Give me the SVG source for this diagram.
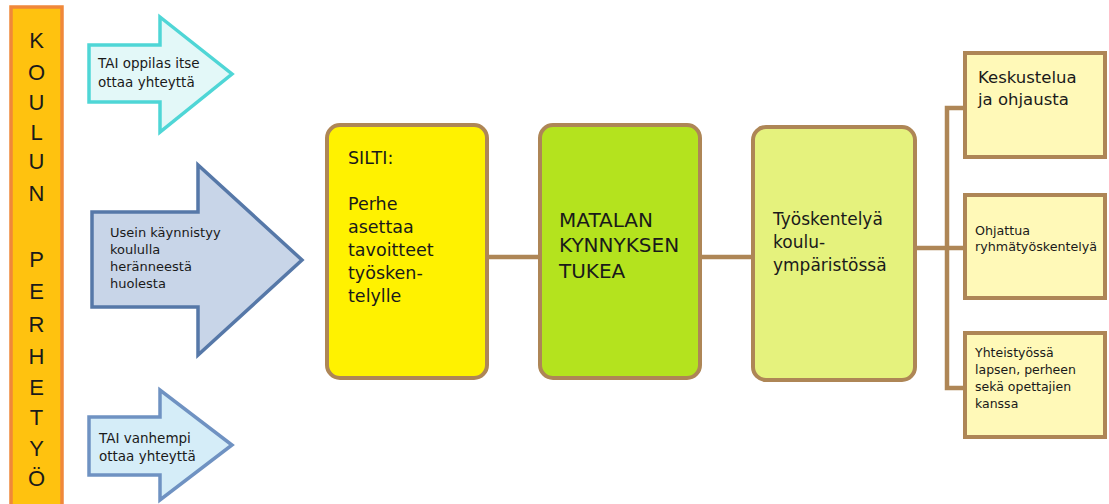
<svg xmlns="http://www.w3.org/2000/svg" width="1109" height="504" viewBox="0 0 1109 504">
<style>
.t{font-family:"DejaVu Sans","Liberation Sans",sans-serif;fill:#1a1a1a}
.bar{font-family:"Liberation Sans",Arial,sans-serif;font-size:22px;fill:#1a1a1a;text-anchor:middle}
.box{stroke:#AE8656;stroke-width:4}
.conn{stroke:#AE8656;stroke-width:4.5;fill:none}
</style>
<rect width="1109" height="504" fill="#ffffff"/>
<g id="bar">
<rect x="11" y="7" width="51" height="510" fill="#FFC20F" stroke="#F0883A" stroke-width="3.5"/>
<text class="bar" x="36.5" y="48">K</text>
<text class="bar" x="36.5" y="80">O</text>
<text class="bar" x="36.5" y="110">U</text>
<text class="bar" x="36.5" y="140">L</text>
<text class="bar" x="36.5" y="169">U</text>
<text class="bar" x="36.5" y="201">N</text>
<text class="bar" x="36.5" y="267">P</text>
<text class="bar" x="36.5" y="299">E</text>
<text class="bar" x="36.5" y="332">R</text>
<text class="bar" x="36.5" y="364">H</text>
<text class="bar" x="36.5" y="395">E</text>
<text class="bar" x="36.5" y="425">T</text>
<text class="bar" x="36.5" y="456">Y</text>
<text class="bar" x="36.5" y="486">Ö</text>
</g>
<g id="arrow1">
<polygon points="89,45 160,45 160,17 232,74 160,132 160,102 89,102" fill="#E3F8F8" stroke="#4FD6D6" stroke-width="3.5" stroke-linejoin="miter"/>
<text class="t" font-size="13.5" x="98" y="68">TAI oppilas itse</text>
<text class="t" font-size="13.5" x="98" y="87">ottaa yhteyttä</text>
</g>
<g id="arrow2">
<polygon points="92,212 198,212 198,165 302,260 198,355 198,307 92,307" fill="#C8D5E8" stroke="#5678A8" stroke-width="3.5"/>
<text class="t" font-size="13" x="110" y="237">Usein käynnistyy</text>
<text class="t" font-size="13" x="110" y="254">koululla</text>
<text class="t" font-size="13" x="110" y="271">heränneestä</text>
<text class="t" font-size="13" x="110" y="288">huolesta</text>
</g>
<g id="arrow3">
<polygon points="89,417 160,417 160,390 232,445 160,500 160,475 89,475" fill="#D5EDF8" stroke="#6F92C2" stroke-width="3.5"/>
<text class="t" font-size="13.5" x="99" y="443">TAI vanhempi</text>
<text class="t" font-size="13.5" x="99" y="461">ottaa yhteyttä</text>
</g>
<g id="connectors">
<line class="conn" x1="487" y1="257" x2="540" y2="257"/>
<line class="conn" x1="700" y1="257" x2="753" y2="257"/>
<line class="conn" x1="915" y1="248" x2="947" y2="248"/>
<polyline class="conn" points="965,108 947,108 947,388 965,388"/>
<line class="conn" x1="947" y1="248" x2="965" y2="248"/>
</g>
<g id="silti">
<rect class="box" x="327" y="125" width="160" height="253" rx="13" fill="#FFF200"/>
<text class="t" font-size="17.5" x="348" y="164">SILTI:</text>
<text class="t" font-size="17.5" x="348" y="210">Perhe</text>
<text class="t" font-size="17.5" x="348" y="233">asettaa</text>
<text class="t" font-size="17.5" x="348" y="256">tavoitteet</text>
<text class="t" font-size="17.5" x="348" y="279">työsken-</text>
<text class="t" font-size="17.5" x="348" y="302">telylle</text>
</g>
<g id="matalan">
<rect class="box" x="540" y="125" width="160" height="253" rx="13" fill="#B4E31E"/>
<text class="t" font-size="20" x="559" y="227">MATALAN</text>
<text class="t" font-size="20" x="559" y="252">KYNNYKSEN</text>
<text class="t" font-size="20" x="559" y="278">TUKEA</text>
</g>
<g id="tyoskentely">
<rect class="box" x="753" y="127" width="162" height="253" rx="13" fill="#E5F27D"/>
<text class="t" font-size="17" x="773" y="225">Työskentelyä</text>
<text class="t" font-size="17" x="773" y="248">koulu-</text>
<text class="t" font-size="17" x="773" y="271">ympäristössä</text>
</g>
<g id="keskustelua">
<rect class="box" x="965" y="53" width="140" height="104" fill="#FFF9B8"/>
<text class="t" font-size="16.5" x="978" y="83">Keskustelua</text>
<text class="t" font-size="16.5" x="978" y="105">ja ohjausta</text>
</g>
<g id="ryhma">
<rect class="box" x="965" y="195" width="140" height="103" fill="#FFF9B8"/>
<text class="t" font-size="12.7" x="975" y="235">Ohjattua</text>
<text class="t" font-size="12.7" x="975" y="251">ryhmätyöskentelyä</text>
</g>
<g id="yhteistyo">
<rect class="box" x="965" y="333" width="140" height="104" fill="#FFF9B8"/>
<text class="t" font-size="12.5" x="975" y="357">Yhteistyössä</text>
<text class="t" font-size="12.5" x="975" y="374">lapsen, perheen</text>
<text class="t" font-size="12.5" x="975" y="391">sekä opettajien</text>
<text class="t" font-size="12.5" x="975" y="408">kanssa</text>
</g>
</svg>
